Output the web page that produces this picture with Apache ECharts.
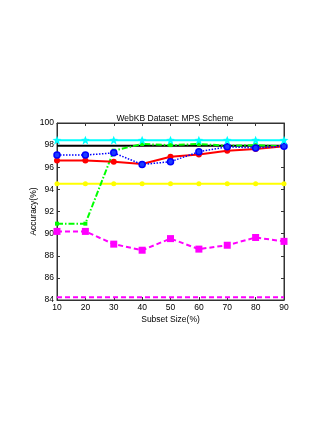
<!DOCTYPE html>
<html>
<head>
<meta charset="utf-8">
<script src="https://cdn.jsdelivr.net/npm/echarts@6/dist/echarts.min.js"></script>
<style>
  html, body { margin: 0; padding: 0; background: #fff; }
  #chart { width: 332px; height: 430px; }
</style>
</head>
<body>
<div id="chart"></div>
<script>
// subset sizes on the x axis
var subsetSizes = [10, 20, 30, 40, 50, 60, 70, 80, 90];

// accuracy (%) for each curve
var cyanStar    = [98.45, 98.45, 98.45, 98.45, 98.45, 98.45, 98.45, 98.45, 98.45];
var blackLine   = [97.95, 97.95, 97.95, 97.95, 97.95, 97.95, 97.95, 97.95, 97.95];
var greenDashDot = [90.9, 90.9, 97.5, 98.1, 98.0, 98.1, 97.95, 98.0, 97.9];
var blueDotted  = [97.1, 97.1, 97.3, 96.25, 96.5, 97.4, 97.85, 97.75, 97.9];
var redSolid    = [96.6, 96.6, 96.5, 96.3, 96.95, 97.15, 97.5, 97.65, 97.9];
var yellowLine  = [94.5, 94.5, 94.5, 94.5, 94.5, 94.5, 94.5, 94.5, 94.5];
var magentaSq   = [90.2, 90.2, 89.05, 88.5, 89.55, 88.6, 88.95, 89.65, 89.3];
var magentaFlat = [84.25, 84.25, 84.25, 84.25, 84.25, 84.25, 84.25, 84.25, 84.25];

function pairs(arr) {
    return subsetSizes.map(function (x, i) { return [x, arr[i]]; });
}

var starPath = 'path://M0,-10L2.5,-3.5L9.5,-3L4,1.5L6,9L0,4.5L-6,9L-4,1.5L-9.5,-3L-2.5,-3.5Z';

var myChart = echarts.init(document.getElementById('chart'));
var font = 'Liberation Sans';
var option = {
    backgroundColor: '#fff',
    animation: false,
    textStyle: { fontFamily: font },
    title: {
        text: 'WebKB Dataset: MPS Scheme',
        left: 170, top: 109, textAlign: 'center',
        textStyle: { fontSize: 8.5, fontWeight: 'normal', color: '#000', fontFamily: font }
    },
    grid: {
        left: 57, right: 48, top: 123, bottom: 130,
        show: true, borderColor: '#333', borderWidth: 1
    },
    xAxis: [{
        type: 'value', min: 10, max: 90, interval: 10,
        name: 'Subset Size(%)', nameLocation: 'middle', nameGap: 15, nameMoveOverlap: false,
        nameTextStyle: { fontSize: 8.5, color: '#000' },
        axisLine: { lineStyle: { color: '#333' } },
        axisTick: { inside: true, length: 3, lineStyle: { color: '#333' } },
        axisLabel: { fontSize: 8.5, color: '#000', margin: 3 },
        splitLine: { show: false }
    }, {
        type: 'value', min: 10, max: 90, interval: 10, position: 'top',
        axisLine: { lineStyle: { color: '#333' } },
        axisTick: { inside: true, length: 3, lineStyle: { color: '#333' } },
        axisLabel: { show: false }, splitLine: { show: false }
    }],
    yAxis: [{
        type: 'value', min: 84, max: 100, interval: 2,
        name: 'Accuracy(%)', nameLocation: 'middle', nameGap: 19, nameMoveOverlap: false,
        nameTextStyle: { fontSize: 8.5, color: '#000' },
        axisLine: { show: true, lineStyle: { color: '#333' } },
        axisTick: { show: true, inside: true, length: 3, lineStyle: { color: '#333' } },
        axisLabel: { fontSize: 8.5, color: '#000', margin: 3 },
        splitLine: { show: false }
    }, {
        type: 'value', min: 84, max: 100, interval: 2, position: 'right',
        axisLine: { show: true, lineStyle: { color: '#333' } },
        axisTick: { show: true, inside: true, length: 3, lineStyle: { color: '#333' } },
        axisLabel: { show: false }, splitLine: { show: false }
    }],
    series: [
        {
            name: 'flat magenta', type: 'line', data: pairs(magentaFlat),
            showSymbol: false, symbol: 'none',
            lineStyle: { color: '#ff00ff', width: 2, type: [5, 3] }
        },
        {
            name: 'magenta squares', type: 'line', data: pairs(magentaSq),
            symbol: 'rect', symbolSize: 7,
            itemStyle: { color: '#ff00ff' },
            lineStyle: { color: '#ff00ff', width: 2, type: [5, 3] }
        },
        {
            name: 'yellow', type: 'line', data: pairs(yellowLine),
            symbol: 'circle', symbolSize: 5,
            itemStyle: { color: '#ffff00' },
            lineStyle: { color: '#ffff00', width: 2 }
        },
        {
            name: 'black', type: 'line', data: pairs(blackLine),
            symbol: 'none',
            lineStyle: { color: '#000', width: 2 }
        },
        {
            name: 'green', type: 'line', data: pairs(greenDashDot),
            symbol: 'rect', symbolSize: 4,
            itemStyle: { color: '#00ff00' },
            lineStyle: { color: '#00ff00', width: 2, type: [6, 2, 1.5, 2] }
        },
        {
            name: 'red', type: 'line', data: pairs(redSolid),
            symbol: 'circle', symbolSize: 6,
            itemStyle: { color: '#ff0000' },
            lineStyle: { color: '#ff0000', width: 2 }
        },
        {
            name: 'blue', type: 'line', data: pairs(blueDotted),
            symbol: 'circle', symbolSize: 6,
            itemStyle: { color: '#1a3cff', borderColor: '#0000ff', borderWidth: 1.5 },
            lineStyle: { color: '#0000ff', width: 1.5, type: [1.5, 1.5] }
        },
        {
            name: 'cyan', type: 'line', data: pairs(cyanStar),
            symbol: starPath, symbolSize: 9,
            itemStyle: { color: '#00ffff' },
            lineStyle: { color: '#00ffff', width: 2 }
        }
    ]
};

if (option && typeof option === "object") {
    myChart.setOption(option, true);
}
</script>
</body>
</html>
